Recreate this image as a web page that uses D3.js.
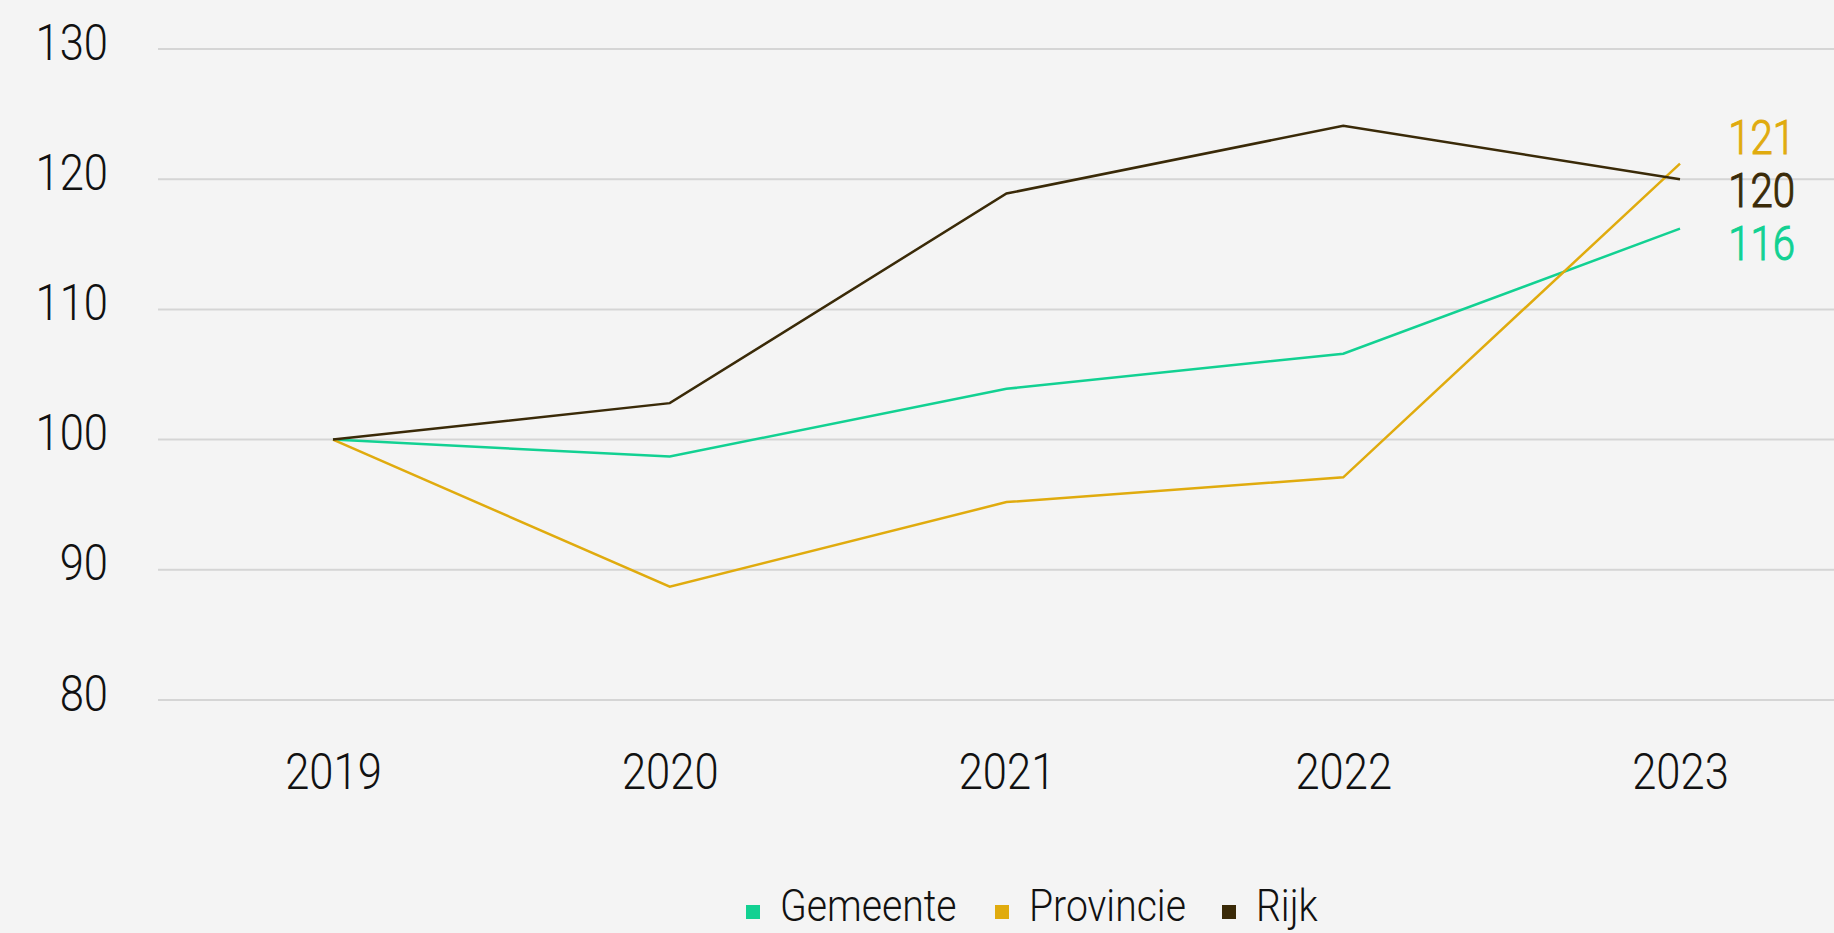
<!DOCTYPE html>
<html>
<head>
<meta charset="utf-8">
<script src="https://cdn.jsdelivr.net/npm/d3@7"></script>
<style>
  html, body { margin: 0; padding: 0; background: #f4f4f4; }
  svg { display: block; }
  text { font-family: Roboto, "Liberation Sans", sans-serif; font-weight: 300; }
</style>
</head>
<body>
<svg id="chart" width="1834" height="933"></svg>
<script>
// Index (2019 = 100) per government layer
const years = ["2019", "2020", "2021", "2022", "2023"];
const gemeente = [100, 98.7, 103.9, 106.6, 116.2];
const provincie = [100, 88.7, 95.2, 97.1, 121.2];
const rijk = [100, 102.8, 118.9, 124.1, 120.0];
const seriesNames = ["Gemeente", "Provincie", "Rijk"];
const seriesColors = ["#12d192", "#e0ab0e", "#3a2a08"];
const yTicks = [80, 90, 100, 110, 120, 130];

const series = [gemeente, provincie, rijk].map((values, i) => ({
  name: seriesNames[i], color: seriesColors[i], values
}));

const W = 1834, H = 933;
const NARROW = "scale(0.87,1)"; // slightly condensed labels
const svg = d3.select("#chart");
svg.append("rect").attr("width", W).attr("height", H).attr("fill", "#f4f4f4");

const x = d3.scalePoint().domain(years).range([333, 1680]);
const y = d3.scaleLinear().domain([80, 130]).range([700, 49]);

// horizontal grid
svg.append("g").selectAll("line").data(yTicks).join("line")
  .attr("x1", 158).attr("x2", W)
  .attr("y1", d => y(d)).attr("y2", d => y(d))
  .attr("stroke", "#d5d5d5").attr("stroke-width", 2);

// value axis labels
const yAxis = d3.axisLeft(y).tickValues(yTicks).tickSize(0).tickPadding(0);
const gy = svg.append("g").attr("transform", "translate(108,0)").call(yAxis);
gy.select(".domain").remove();
gy.selectAll("text")
  .attr("x", 0).attr("dy", "10px")
  .attr("transform", NARROW)
  .attr("fill", "#111").attr("font-size", 50);
gy.attr("font-family", null).attr("font-size", null);

// year labels
const xAxis = d3.axisBottom(x).tickSize(0).tickPadding(0);
const gx = svg.append("g").attr("transform", "translate(0,789)").call(xAxis);
gx.select(".domain").remove();
gx.selectAll("text")
  .attr("y", 0).attr("dy", 0)
  .attr("transform", NARROW)
  .attr("fill", "#111").attr("font-size", 50);
gx.attr("font-family", null).attr("font-size", null);

// lines
const line = d3.line().x((d, i) => x(years[i])).y(d => y(d));
svg.append("g").selectAll("path").data(series).join("path")
  .attr("d", d => line(d.values))
  .attr("fill", "none")
  .attr("stroke", d => d.color)
  .attr("stroke-width", 2.5)
  .attr("stroke-linejoin", "miter");

// end labels, spread vertically so they do not overlap
const gap = 53;
const ends = series.map(s => ({ s, v: s.values[s.values.length - 1], cy: y(s.values[s.values.length - 1]) }))
  .sort((a, b) => a.cy - b.cy);
const meanY = d3.mean(ends, d => d.cy);
ends.forEach((d, i) => { d.ly = meanY + (i - (ends.length - 1) / 2) * gap; });
svg.append("g").selectAll("text").data(ends).join("text")
  .attr("transform", d => `translate(1795,${d.ly + 17}) scale(0.82,1)`)
  .attr("text-anchor", "end")
  .attr("font-size", 49)
  .attr("font-weight", 400)
  .attr("fill", d => d.s.color)
  .attr("stroke", d => d.s.color)
  .attr("stroke-width", 1.1)
  .text(d => d3.format(".0f")(d.v));

// legend
const legend = svg.append("g").attr("transform", "translate(746,921)");
const offsets = [0, 249, 476];
const items = legend.selectAll("g").data(series).join("g")
  .attr("transform", (d, i) => `translate(${offsets[i]},0)`);
items.append("rect").attr("x", 0).attr("y", -16).attr("width", 14).attr("height", 14)
  .attr("fill", d => d.color);
items.append("text")
  .attr("transform", `translate(34,0) ${NARROW}`)
  .attr("font-size", 45).attr("fill", "#111")
  .text(d => d.name);
</script>
</body>
</html>
